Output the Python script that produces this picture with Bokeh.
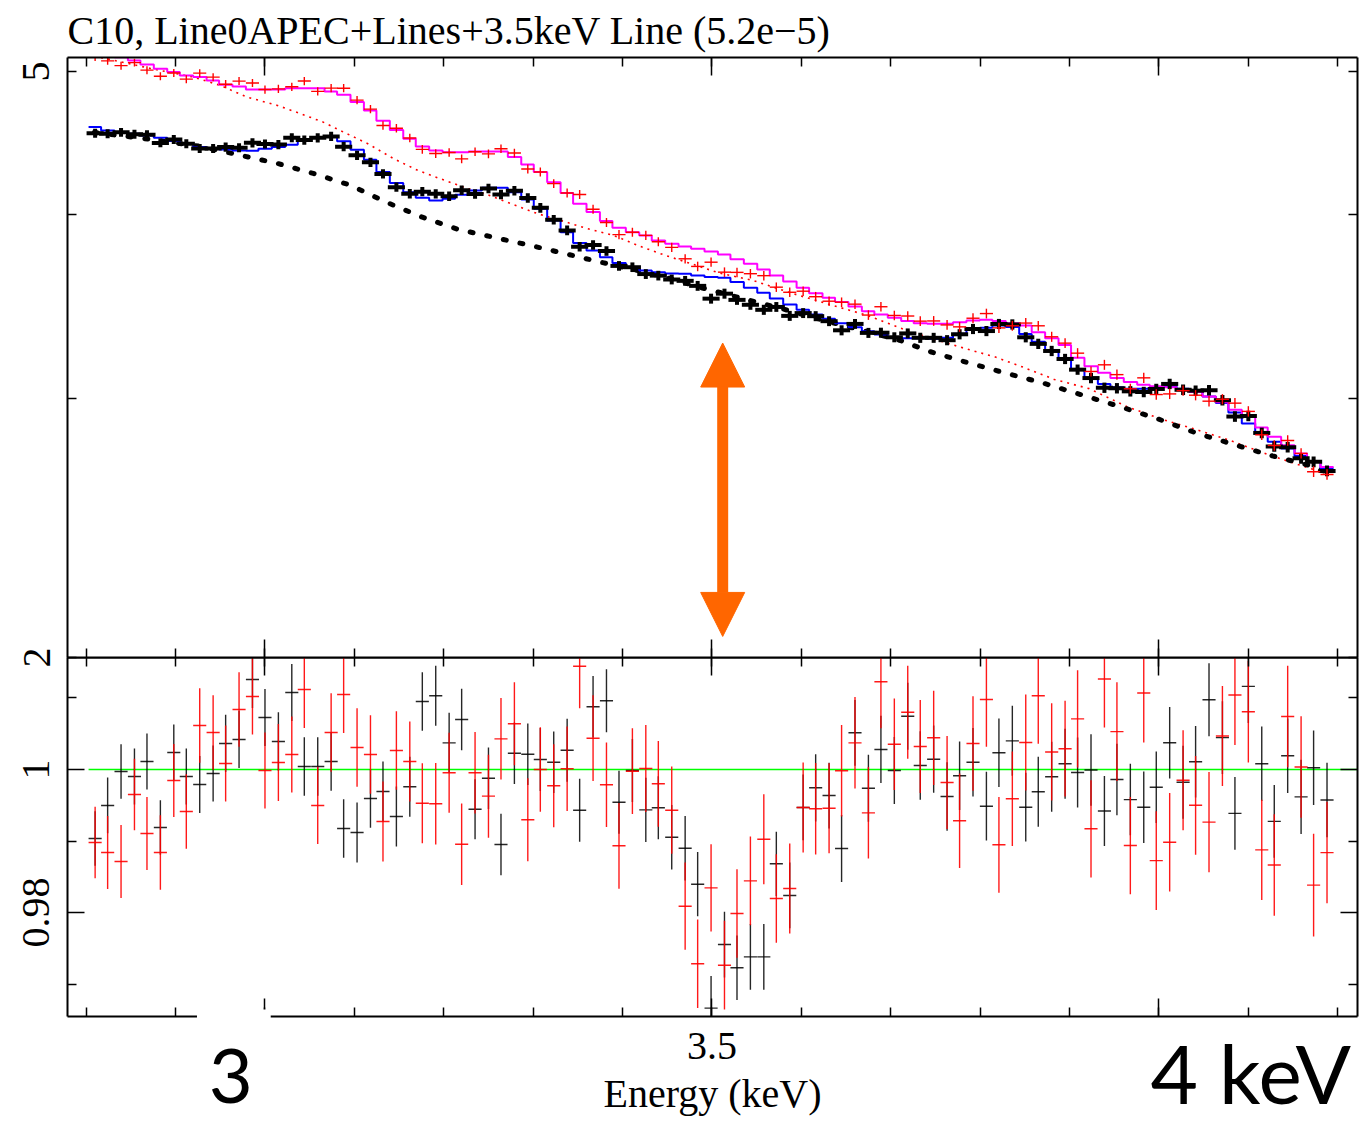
import numpy as np
from bokeh.plotting import figure
from bokeh.layouts import column
from bokeh.core.properties import value
from bokeh.models import (Range1d, LinearAxis, LogAxis, FixedTicker, Arrow, NormalHead)
from bokeh.embed import file_html
from bokeh.resources import INLINE

# ---------------------------------------------------------------------------
# Spectral bins (keV, bin centres) shared by both observations
energy_kev = [
    2.810, 2.824, 2.839, 2.854, 2.868, 2.883, 2.898, 2.912, 2.927, 2.942,
    2.956, 2.971, 2.986, 3.000, 3.015, 3.030, 3.044, 3.059, 3.074, 3.088,
    3.103, 3.118, 3.132, 3.147, 3.162, 3.176, 3.191, 3.206, 3.220, 3.235,
    3.250, 3.264, 3.279, 3.294, 3.308, 3.323, 3.338, 3.352, 3.367, 3.382,
    3.396, 3.411, 3.426, 3.440, 3.455, 3.470, 3.484, 3.499, 3.514, 3.528,
    3.543, 3.558, 3.572, 3.587, 3.602, 3.616, 3.631, 3.645, 3.660, 3.675,
    3.689, 3.704, 3.719, 3.733, 3.748, 3.763, 3.777, 3.792, 3.807, 3.821,
    3.836, 3.851, 3.865, 3.880, 3.895, 3.909, 3.924, 3.939, 3.953, 3.968,
    3.983, 3.997, 4.012, 4.027, 4.041, 4.056, 4.071, 4.085, 4.100, 4.115,
    4.129, 4.144, 4.159, 4.173, 4.188]
bin_half_width = 0.00733

# Folded model (counts/s/keV), observation 1 (blue) and observation 2 (magenta)
model_obs1 = [
    4.583, 4.559, 4.547, 4.536, 4.524, 4.508, 4.485, 4.470, 4.442, 4.435,
    4.426, 4.419, 4.416, 4.431, 4.442, 4.459, 4.489, 4.505, 4.512, 4.482,
    4.424, 4.355, 4.273, 4.200, 4.140, 4.104, 4.087, 4.098, 4.123, 4.151,
    4.169, 4.169, 4.140, 4.093, 4.034, 3.961, 3.889, 3.823, 3.779, 3.740,
    3.706, 3.682, 3.663, 3.653, 3.646, 3.644, 3.634, 3.626, 3.621, 3.598,
    3.565, 3.537, 3.506, 3.473, 3.445, 3.419, 3.396, 3.373, 3.352, 3.331,
    3.314, 3.300, 3.295, 3.295, 3.292, 3.297, 3.318, 3.339, 3.349, 3.361,
    3.353, 3.317, 3.276, 3.233, 3.187, 3.138, 3.096, 3.067, 3.051, 3.045,
    3.045, 3.051, 3.056, 3.045, 3.032, 3.008, 2.977, 2.933, 2.884, 2.839,
    2.802, 2.773, 2.741, 2.715, 2.689]
model_obs2 = [
    5.167, 5.143, 5.111, 5.087, 5.055, 5.021, 4.995, 4.969, 4.956, 4.930,
    4.897, 4.884, 4.861, 4.861, 4.861, 4.871, 4.871, 4.871, 4.846, 4.820,
    4.766, 4.704, 4.628, 4.563, 4.501, 4.447, 4.419, 4.407, 4.407, 4.412,
    4.412, 4.412, 4.373, 4.323, 4.272, 4.205, 4.134, 4.066, 4.013, 3.957,
    3.916, 3.889, 3.869, 3.839, 3.819, 3.803, 3.789, 3.773, 3.756, 3.727,
    3.702, 3.669, 3.634, 3.600, 3.565, 3.535, 3.510, 3.486, 3.462, 3.437,
    3.419, 3.402, 3.384, 3.373, 3.370, 3.370, 3.378, 3.387, 3.391, 3.384,
    3.373, 3.361, 3.325, 3.294, 3.260, 3.196, 3.154, 3.121, 3.096, 3.077,
    3.064, 3.056, 3.051, 3.040, 3.029, 3.008, 2.981, 2.946, 2.915, 2.865,
    2.824, 2.787, 2.751, 2.718, 2.694]

# Data / model ratio and its 1-sigma uncertainty
ratio_obs1 = [
    0.99035, 0.99497, 0.99972, 0.99902, 1.00112, 0.99189, 1.00238, 0.99902, 0.99790, 0.99944,
    1.00364, 1.00420, 1.01259, 1.00727, 1.00392, 1.01077, 1.00042, 1.00042, 1.00112, 0.99175,
    0.99119, 0.99594, 0.99692, 0.99343, 0.99758, 1.00951, 1.01031, 1.00373, 1.00699, 0.99445,
    0.99878, 0.98951, 1.00228, 1.00214, 1.00140, 1.00102, 1.00270, 0.99431, 1.00877, 1.00961,
    0.99543, 0.99986, 0.99436, 0.99464, 0.99053, 0.98899, 0.98396, 0.96662, 0.97552, 0.97227,
    0.97380, 0.97380, 0.98681, 0.98238, 0.99469, 0.99744, 0.99636, 0.98895, 1.00513, 0.99738,
    1.00280, 0.99986, 1.00745, 1.00056, 1.00144, 0.99622, 0.99912, 1.00102, 0.99487, 1.00234,
    1.00401, 0.99473, 0.99688, 0.99898, 1.00080, 0.99958, 0.99992, 0.99420, 0.99860, 0.99579,
    0.99471, 0.99752, 1.00375, 0.99822, 1.00108, 1.00975, 1.00446, 0.99386, 1.01162, 1.00080,
    0.99274, 1.00193, 0.99617, 1.00024, 0.99573]
ratio_obs2 = [
    0.98979, 0.98839, 0.98713, 0.99650, 0.99105, 0.98839, 0.99846, 0.99413, 1.00615, 1.00517,
    1.00084, 1.00839, 1.01021, 0.99986, 1.00098, 1.00210, 1.01119, 0.99497, 1.00517, 1.01049,
    1.00308, 1.00210, 0.99273, 1.00266, 1.00112, 0.99529, 0.99520, 0.99954, 0.98955, 0.99954,
    0.99627, 1.00429, 1.00639, 0.99297, 1.00000, 0.99772, 1.00010, 1.01445, 1.00438, 0.99786,
    0.98933, 0.99976, 1.00014, 0.99800, 0.99431, 0.98088, 0.97283, 0.98345, 0.97263, 0.97986,
    0.98443, 0.99025, 0.98196, 0.98336, 0.99469, 0.99450, 0.99459, 0.99982, 1.00373, 0.99394,
    1.01227, 1.00354, 1.00801, 1.00322, 1.00443, 0.99818, 0.99283, 1.00364, 1.00979, 0.98947,
    0.99590, 1.00378, 1.01031, 1.00245, 1.00291, 1.00708, 0.99171, 1.01266, 1.00530, 0.98937,
    1.01069, 0.98726, 0.98983, 0.99850, 0.99499, 0.99264, 1.00469, 1.01041, 1.00807, 0.98876,
    0.98664, 1.00741, 1.00034, 0.98383, 0.98838]
ratio_err_obs1 = [
    0.0038, 0.0039, 0.0038, 0.0039, 0.0039, 0.0038, 0.0039, 0.0039, 0.0040, 0.0039,
    0.0040, 0.0040, 0.0040, 0.0040, 0.0041, 0.0040, 0.0041, 0.0041, 0.0041, 0.0041,
    0.0042, 0.0041, 0.0042, 0.0042, 0.0042, 0.0041, 0.0042, 0.0042, 0.0043, 0.0042,
    0.0043, 0.0043, 0.0043, 0.0043, 0.0044, 0.0043, 0.0044, 0.0044, 0.0043, 0.0044,
    0.0044, 0.0044, 0.0045, 0.0044, 0.0045, 0.0045, 0.0045, 0.0045, 0.0046, 0.0045,
    0.0046, 0.0046, 0.0045, 0.0046, 0.0046, 0.0047, 0.0046, 0.0047, 0.0046, 0.0047,
    0.0047, 0.0047, 0.0047, 0.0048, 0.0047, 0.0048, 0.0048, 0.0048, 0.0048, 0.0048,
    0.0049, 0.0048, 0.0049, 0.0049, 0.0049, 0.0049, 0.0050, 0.0049, 0.0050, 0.0050,
    0.0050, 0.0050, 0.0050, 0.0051, 0.0050, 0.0051, 0.0051, 0.0051, 0.0051, 0.0052,
    0.0051, 0.0052, 0.0052, 0.0052, 0.0052]
ratio_err_obs2 = [
    0.0050, 0.0051, 0.0051, 0.0050, 0.0051, 0.0052, 0.0051, 0.0052, 0.0052, 0.0052,
    0.0053, 0.0052, 0.0053, 0.0053, 0.0054, 0.0053, 0.0054, 0.0054, 0.0055, 0.0054,
    0.0055, 0.0055, 0.0056, 0.0055, 0.0056, 0.0056, 0.0057, 0.0056, 0.0057, 0.0057,
    0.0058, 0.0057, 0.0058, 0.0058, 0.0059, 0.0058, 0.0059, 0.0059, 0.0060, 0.0059,
    0.0060, 0.0060, 0.0061, 0.0060, 0.0061, 0.0061, 0.0062, 0.0061, 0.0062, 0.0062,
    0.0062, 0.0063, 0.0062, 0.0063, 0.0063, 0.0064, 0.0063, 0.0064, 0.0064, 0.0064,
    0.0065, 0.0064, 0.0065, 0.0065, 0.0066, 0.0065, 0.0066, 0.0066, 0.0066, 0.0067,
    0.0066, 0.0067, 0.0067, 0.0068, 0.0067, 0.0068, 0.0068, 0.0068, 0.0069, 0.0068,
    0.0069, 0.0069, 0.0069, 0.0070, 0.0069, 0.0070, 0.0070, 0.0070, 0.0071, 0.0070,
    0.0071, 0.0071, 0.0071, 0.0072, 0.0071]

# Continuum-only model components (dotted curves)
cont_obs1_kev = [2.809, 2.872, 2.928, 2.973, 3.014, 3.054, 3.096, 3.135, 3.176, 3.216,
                 3.258, 3.297, 3.336, 3.375, 3.417, 3.454, 3.487, 3.532, 3.577, 3.621,
                 3.666, 3.711, 3.742, 3.784, 3.825, 3.870, 3.913, 3.956, 3.999, 4.043,
                 4.084, 4.127, 4.168, 4.187]
cont_obs1 = [4.545, 4.496, 4.447, 4.385, 4.330, 4.263, 4.184, 4.077, 3.981, 3.906,
             3.855, 3.809, 3.760, 3.711, 3.663, 3.616, 3.567, 3.509, 3.452, 3.393,
             3.338, 3.283, 3.229, 3.174, 3.124, 3.072, 3.016, 2.961, 2.904, 2.839,
             2.790, 2.741, 2.701, 2.673]
cont_obs2_kev = [2.809, 2.824, 2.872, 2.920, 2.950, 2.980, 3.014, 3.040, 3.065, 3.088,
                 3.115, 3.144, 3.171, 3.196, 3.222, 3.249, 3.275, 3.305, 3.333, 3.361,
                 3.390, 3.420, 3.448, 3.479, 3.507, 3.546, 3.591, 3.629, 3.674, 3.713,
                 3.741, 3.778, 3.817, 3.848, 3.883, 3.922, 3.964, 4.002, 4.037, 4.079,
                 4.124, 4.168, 4.187]
cont_obs2 = [5.119, 5.099, 5.023, 4.956, 4.892, 4.803, 4.741, 4.680, 4.619, 4.547,
             4.466, 4.362, 4.283, 4.228, 4.173, 4.123, 4.066, 4.003, 3.957, 3.910,
             3.869, 3.803, 3.750, 3.698, 3.650, 3.606, 3.532, 3.477, 3.414, 3.344,
             3.300, 3.249, 3.199, 3.149, 3.089, 3.045, 2.961, 2.904, 2.862, 2.809,
             2.744, 2.689, 2.670]

# Axis ranges, ticks and tick labels
energy_lo, energy_hi = 2.7791, 4.2221
flux_lo, flux_hi = 2.0, 5.11
ratio_lo, ratio_hi = 0.965455, 1.015664
x_major = [3.0, 3.5, 4.0]
x_minor = [2.8, 2.9, 3.0, 3.1, 3.2, 3.3, 3.4, 3.5, 3.6, 3.7, 3.8, 3.9, 4.0, 4.1, 4.2]
x_labels = {3: "", 3.5: "3.5", 4: ""}
flux_ticks = [2, 3, 4, 5]
flux_labels = {2: "2", 3: "", 4: "", 5: "5"}
ratio_major = [0.98, 1.0]
ratio_minor = [0.97, 0.99, 1.01]
ratio_labels = {0.98: "0.98", 1: "1"}

title_text = "C10, Line0APEC+Lines+3.5keV Line (5.2e\u22125)"
marker_kev = 3.512
marker_low, marker_high = 2.067, 3.270

# Large energy call-outs under the axis (text, energy position, height in strip px)
callout_3 = ("3", 2.9625, 46)
callout_4 = ("4 keV", 4.2205, 50)
cover_kev = (2.9245, 3.0073)   # white patch behind the "3" call-out
cover_height = 112

SERIF = "Liberation Serif"
SANS = "Lato"
TEXT_SIZE = "40px"
ORANGE = "#ff6600"

# Page geometry (pixels)
PAGE_W = 1362
FRAME_L, FRAME_R = 67, 5
FRAME_W = PAGE_W - FRAME_L - FRAME_R
STRIP_H = 221

# ---------------------------------------------------------------------------
E = np.asarray(energy_kev)
lo = E - bin_half_width
hi = E + bin_half_width
edges = np.append(lo, hi[-1])

m1, m2 = np.asarray(model_obs1), np.asarray(model_obs2)
r1, r2 = np.asarray(ratio_obs1), np.asarray(ratio_obs2)
s1, s2 = np.asarray(ratio_err_obs1), np.asarray(ratio_err_obs2)
d1, e1 = r1 * m1, s1 * m1
d2, e2 = r2 * m2, s2 * m2

x_range = Range1d(energy_lo, energy_hi)


def make_axis(cls, ticks, minor, major_len, minor_len, labels=None, vertical=False,
              standoff=8):
    ax = cls(ticker=FixedTicker(ticks=ticks, minor_ticks=minor))
    ax.axis_line_color = "black"
    ax.axis_line_width = 2
    ax.major_tick_in = major_len
    ax.major_tick_out = 0
    ax.minor_tick_in = minor_len
    ax.minor_tick_out = 0
    ax.major_tick_line_color = "black"
    ax.minor_tick_line_color = "black"
    ax.major_tick_line_width = 1.5
    ax.minor_tick_line_width = 1.5
    if labels:
        ax.major_label_overrides = labels
        ax.major_label_text_font = SERIF
        ax.major_label_text_font_size = TEXT_SIZE
        ax.major_label_text_color = "black"
        ax.major_label_standoff = standoff
        if vertical:
            ax.major_label_orientation = "vertical"
    else:
        ax.major_label_overrides = {t: "" for t in ticks}
        ax.major_label_text_font_size = "0px"
        ax.major_label_standoff = 0
    return ax


# ---------------------------- spectrum panel --------------------------------
p1 = figure(width=PAGE_W, height=671, x_range=x_range, y_range=Range1d(flux_lo, flux_hi),
            y_axis_type="log", x_axis_location=None, y_axis_location=None,
            title=title_text, output_backend="svg", toolbar_location=None,
            min_border_left=FRAME_L, min_border_right=FRAME_R,
            min_border_top=57, min_border_bottom=14)
p1.grid.visible = False
p1.outline_line_color = None
p1.title.text_font = SERIF
p1.title.text_font_size = TEXT_SIZE
p1.title.text_font_style = "normal"
p1.title.text_color = "black"
p1.title.align = "left"
p1.title.standoff = 10
p1.title.offset = 0

p1.add_layout(make_axis(LogAxis, flux_ticks, [], 9, 0, flux_labels, True, 18), "left")
p1.add_layout(make_axis(LogAxis, flux_ticks, [], 9, 0), "right")
p1.add_layout(make_axis(LinearAxis, x_major, x_minor, 18, 9), "above")
p1.add_layout(make_axis(LinearAxis, x_major, x_minor, 18, 9), "below")

p1.line(cont_obs2_kev, cont_obs2, line_color="red", line_width=1.6, line_dash="2 5")
p1.line(cont_obs1_kev, cont_obs1, line_color="black", line_width=5,
        line_dash="3 14", line_cap="round")
p1.step(edges, np.append(m1, m1[-1]), mode="after", line_color="blue", line_width=2)
p1.step(edges, np.append(m2, m2[-1]), mode="after", line_color="magenta", line_width=2)
p1.segment(lo, d1, hi, d1, line_color="black", line_width=4, line_cap="square")
p1.segment(E, d1 - e1, E, d1 + e1, line_color="black", line_width=4, line_cap="square")
p1.segment(lo, d2, hi, d2, line_color="red", line_width=1.4)
p1.segment(E, d2 - e2, E, d2 + e2, line_color="red", line_width=1.4, line_cap="square")

head = dict(size=44, fill_color=ORANGE, line_color=ORANGE)
p1.add_layout(Arrow(start=NormalHead(**head), end=NormalHead(**head),
                    x_start=marker_kev, y_start=marker_low,
                    x_end=marker_kev, y_end=marker_high,
                    line_color=ORANGE, line_width=11))

# ------------------------------ ratio panel ---------------------------------
p2 = figure(width=PAGE_W, height=464, x_range=x_range, y_range=Range1d(ratio_lo, ratio_hi),
            x_axis_location=None, y_axis_location=None,
            output_backend="svg", toolbar_location=None,
            min_border_left=FRAME_L, min_border_right=FRAME_R,
            min_border_top=0, min_border_bottom=105,
            margin=(-14, 0, 0, 0))
p2.grid.visible = False
p2.outline_line_color = None
p2.border_fill_alpha = 0
p2.background_fill_alpha = 0
p2.add_layout(make_axis(LinearAxis, ratio_major, ratio_minor, 17, 9, ratio_labels, True, 18),
              "left")
p2.add_layout(make_axis(LinearAxis, ratio_major, ratio_minor, 17, 9), "right")
p2.add_layout(make_axis(LinearAxis, x_major, x_minor, 18, 9), "above")
xb = make_axis(LinearAxis, x_major, x_minor, 18, 9, x_labels, False, 16)
xb.axis_label = "Energy (keV)"
xb.axis_label_text_font = SERIF
xb.axis_label_text_font_size = TEXT_SIZE
xb.axis_label_text_font_style = "normal"
xb.axis_label_text_color = "black"
xb.axis_label_standoff = 9
p2.add_layout(xb, "below")

p2.segment(edges[0], 1.0, energy_hi, 1.0, line_color="#00ff00", line_width=1.5)
p2.segment(lo, r1, hi, r1, line_color="black", line_width=1.4, line_alpha=0.85)
p2.segment(E, r1 - s1, E, r1 + s1, line_color="black", line_width=1.4, line_alpha=0.85)
p2.segment(lo, r2, hi, r2, line_color="red", line_width=1.4, line_alpha=0.9)
p2.segment(E, r2 - s2, E, r2 + s2, line_color="red", line_width=1.4, line_alpha=0.9)

# ------------------------ call-out strip under the axis ----------------------
# Transparent overlay sharing the energy scale, extended to the right page edge.
strip_hi = energy_hi + FRAME_R * (energy_hi - energy_lo) / FRAME_W
p3 = figure(width=PAGE_W, height=STRIP_H, x_range=Range1d(energy_lo, strip_hi),
            y_range=Range1d(0, STRIP_H),
            x_axis_location=None, y_axis_location=None,
            output_backend="svg", toolbar_location=None,
            min_border_left=FRAME_L, min_border_right=0, min_border_top=0, min_border_bottom=0,
            margin=(-STRIP_H, 0, 0, 0))
p3.grid.visible = False
p3.outline_line_color = None
p3.border_fill_alpha = 0
p3.background_fill_alpha = 0
p3.quad(left=[cover_kev[0]], right=[cover_kev[1]], bottom=[0], top=[cover_height],
        fill_color="white", line_color=None)
p3.text(x=[callout_3[1]], y=[callout_3[2]], text=[callout_3[0]],
        text_font=value(SANS), text_font_size="76px", text_color="black",
        text_align="center", text_baseline="alphabetic")
p3.text(x=[callout_4[1]], y=[callout_4[2]], text=[callout_4[0]],
        text_font=value(SANS), text_font_size="82px", text_color="black",
        text_align="right", text_baseline="alphabetic")

layout = column(p1, p2, p3, spacing=0)
open("out.html", "w").write(file_html(layout, INLINE, title="C10 spectrum"))
